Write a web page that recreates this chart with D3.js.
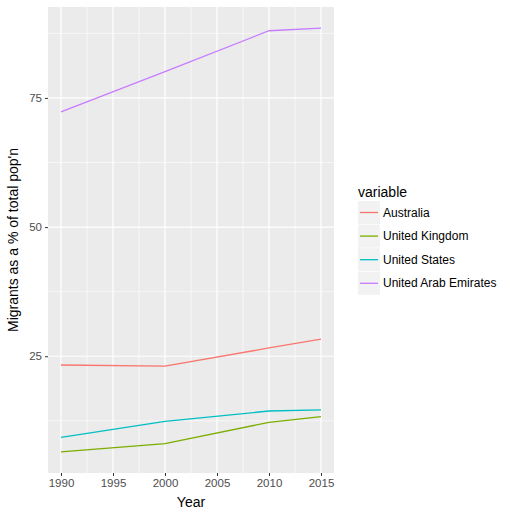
<!DOCTYPE html>
<html><head><meta charset="utf-8">
<script src="https://cdn.jsdelivr.net/npm/d3@7"></script>
<style>body{margin:0;background:#fff;}svg{display:block;font-family:"Liberation Sans",Arial,sans-serif;}</style>
</head><body>
<script>
const years = [1990, 2000, 2010, 2015];
const countries = ["Australia", "United Kingdom", "United States", "United Arab Emirates"];
const australia = [23.3, 23.1, 26.6, 28.3];
const unitedKingdom = [6.5, 8.1, 12.2, 13.3];
const unitedStates = [9.3, 12.4, 14.4, 14.6];
const uae = [72.3, 80.1, 88.0, 88.5];
const xTicks = [1990, 1995, 2000, 2005, 2010, 2015];
const yTicks = [25, 50, 75];
const colors = ["#F8766D", "#7CAE00", "#00BFC4", "#C77CFF"];

const seriesVals = [australia, unitedKingdom, unitedStates, uae];
const W = 510, H = 514;
const pl = 48, pr = 334, pt = 7, pb = 473;
const svg = d3.select("body").append("svg").attr("width", W).attr("height", H);

const allV = seriesVals.flat();
const ymin = d3.min(allV), ymax = d3.max(allV);
const ypad = (ymax - ymin) * 0.05;
const xpad = (2015 - 1990) * 0.05;
const x = d3.scaleLinear().domain([1990 - xpad, 2015 + xpad]).range([pl, pr]);
const y = d3.scaleLinear().domain([ymin - ypad, ymax + ypad]).range([pb, pt]);

svg.append("rect").attr("x", pl).attr("y", pt).attr("width", pr - pl).attr("height", pb - pt).attr("fill", "#EBEBEB");

// minor grid
const xMinor = xTicks.slice(0, -1).map(v => v + 2.5);
const yMinor = [12.5, 37.5, 62.5, 87.5];
const g = svg.append("g");
g.selectAll(".xm").data(xMinor).join("line").attr("x1", d => x(d)).attr("x2", d => x(d)).attr("y1", pt).attr("y2", pb).attr("stroke", "#fff").attr("stroke-width", 0.6);
g.selectAll(".ym").data(yMinor).join("line").attr("y1", d => y(d)).attr("y2", d => y(d)).attr("x1", pl).attr("x2", pr).attr("stroke", "#fff").attr("stroke-width", 0.6);
g.selectAll(".xM").data(xTicks).join("line").attr("x1", d => x(d)).attr("x2", d => x(d)).attr("y1", pt).attr("y2", pb).attr("stroke", "#fff").attr("stroke-width", 1.2);
g.selectAll(".yM").data(yTicks).join("line").attr("y1", d => y(d)).attr("y2", d => y(d)).attr("x1", pl).attr("x2", pr).attr("stroke", "#fff").attr("stroke-width", 1.2);

// axes
const xAxis = d3.axisBottom(x).tickValues(xTicks).tickFormat(d3.format("d")).tickSize(3).tickPadding(3);
const yAxis = d3.axisLeft(y).tickValues(yTicks).tickSize(3).tickPadding(3);
const gx = svg.append("g").attr("transform", `translate(0,${pb})`).call(xAxis);
const gy = svg.append("g").attr("transform", `translate(${pl},0)`).call(yAxis);
[gx, gy].forEach(a => {
  a.select(".domain").remove();
  a.selectAll(".tick line").attr("stroke", "#333");
  a.selectAll(".tick text").attr("fill", "#4D4D4D").style("font-size", "11.5px");
});

// lines
const line = d3.line().x((d, i) => x(years[i])).y(d => y(d));
svg.append("g").selectAll("path").data(seriesVals).join("path")
  .attr("d", d => line(d)).attr("fill", "none").attr("stroke", (d, i) => colors[i]).attr("stroke-width", 1.3);

// axis titles
svg.append("text").attr("x", (pl + pr) / 2).attr("y", 507).attr("text-anchor", "middle").style("font-size", "14px").attr("fill", "#000").text("Year");
svg.append("text").attr("transform", `translate(18,${(pt + pb) / 2}) rotate(-90)`).attr("text-anchor", "middle").style("font-size", "14px").attr("fill", "#000").text("Migrants as a % of total pop'n");

// legend
const lg = svg.append("g");
lg.append("text").attr("x", 358).attr("y", 197).style("font-size", "14px").attr("fill", "#000").text("variable");
const items = lg.selectAll(".it").data(countries).join("g").attr("transform", (d, i) => `translate(358,${201 + i * 23.6})`);
items.append("rect").attr("width", 22).attr("height", 23).attr("fill", "#F2F2F2");
items.append("line").attr("x1", 2).attr("x2", 20).attr("y1", 11.5).attr("y2", 11.5).attr("stroke", (d, i) => colors[i]).attr("stroke-width", 1.3);
items.append("text").attr("x", 25).attr("y", 15.5).style("font-size", "12px").attr("fill", "#000").text(d => d);
</script>
</body></html>
